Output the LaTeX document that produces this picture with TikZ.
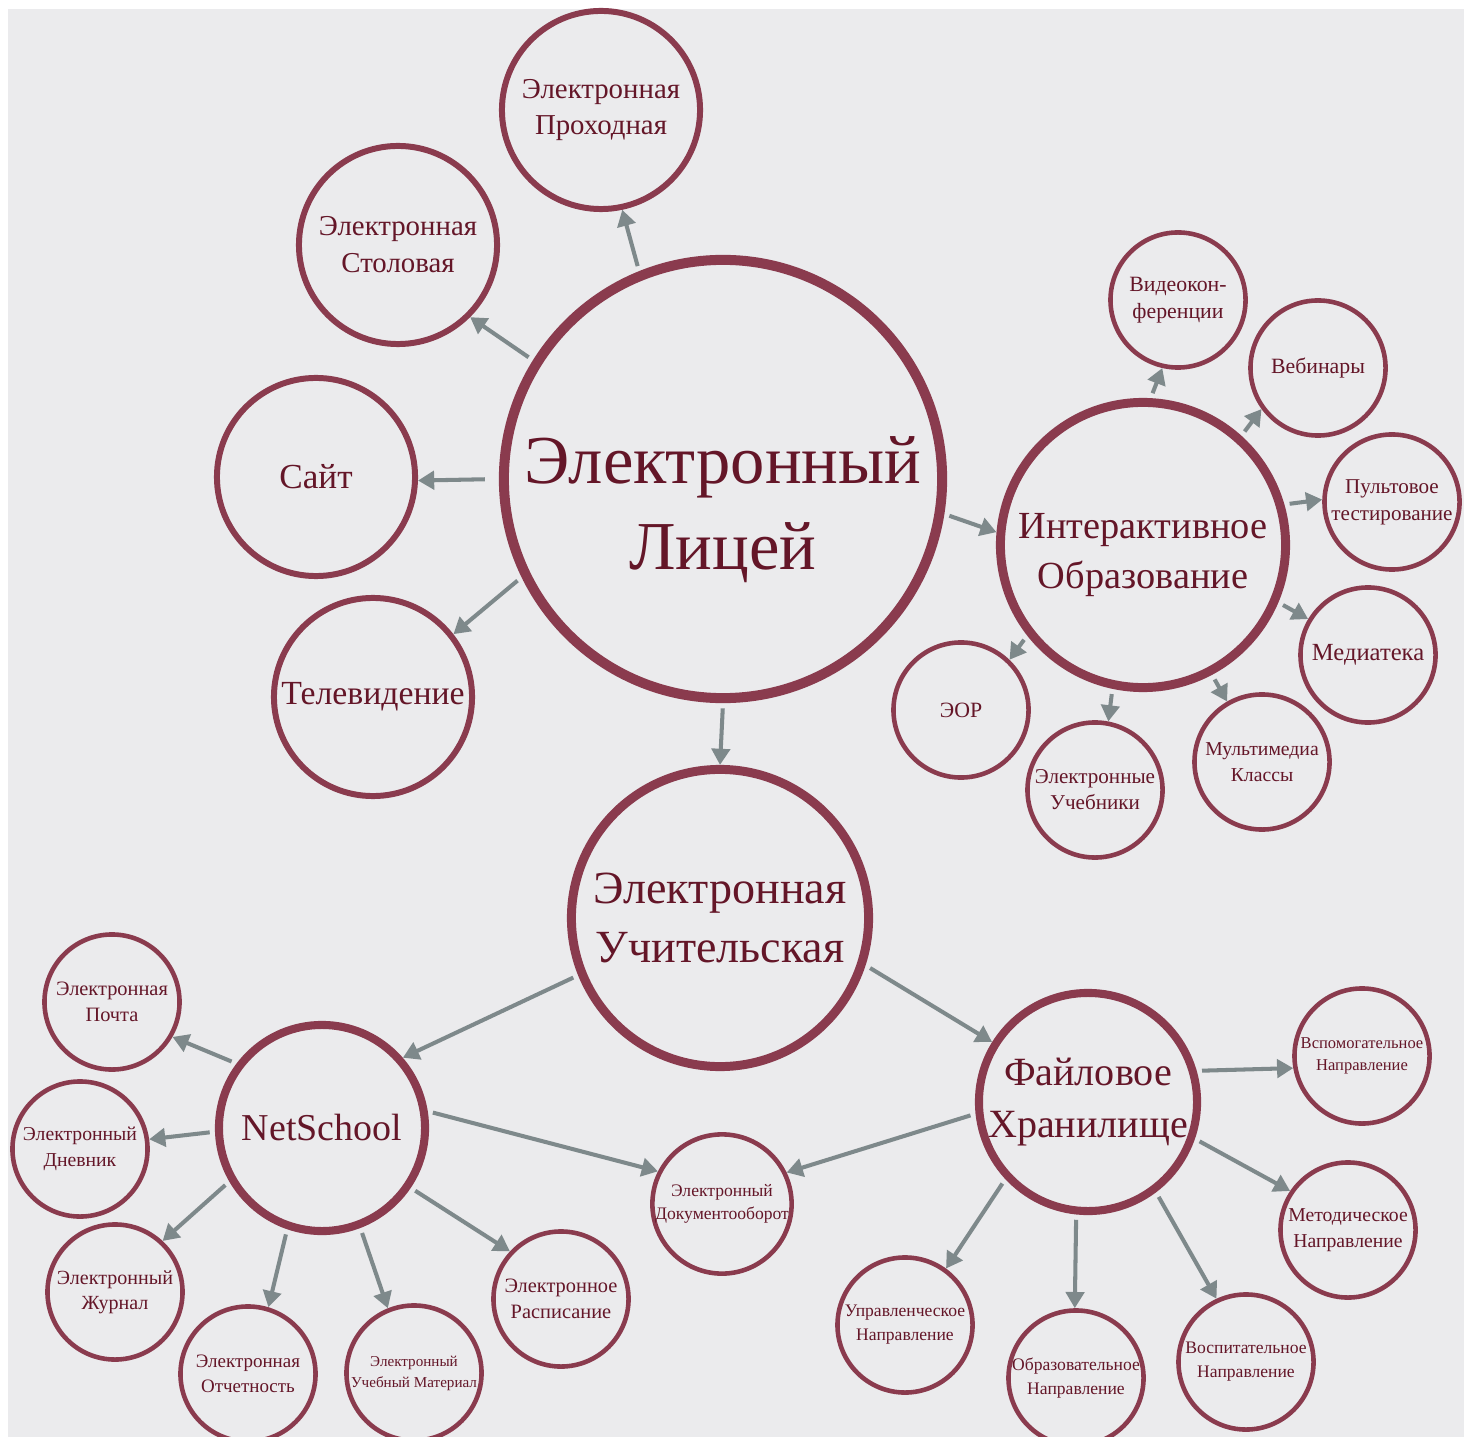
\documentclass[tikz,border=0pt]{standalone}
\usepackage{fontspec}
\setmainfont{Liberation Serif}
\usepackage{xcolor}
\usetikzlibrary{arrows.meta,positioning}

\definecolor{bggray}{HTML}{EBEBED}
\definecolor{ringred}{HTML}{8A3B4E}
\definecolor{inkred}{HTML}{641628}
\definecolor{arrgray}{HTML}{7E898B}

\newcommand{\fsz}[2]{\fontsize{#1}{#2}\selectfont}

\begin{document}
\begin{tikzpicture}[x=0.01cm, y=-0.01cm,
    bub/.style={circle, draw=ringred, fill=bggray, text=inkred, align=center, inner sep=0pt},
    ringtop/.style={bub, minimum size=1.98cm, line width=1.7pt, font=\fsz{8.2}{10.5}},
    ringsmall/.style={bub, minimum size=1.35cm, line width=1.3pt, font=\fsz{6.2}{7.6}},
    label text/.style={text=inkred, align=center, inner sep=0pt},
    arr/.style={draw=arrgray, line width=1.15pt, -{Triangle[length=4.6pt,width=5.2pt]}, shorten <=1.5pt}]

  \useasboundingbox (0,0) rectangle (1464,1437);
  \fill[white] (0,0) rectangle (1464,1437);
  \fill[bggray] (8,9) rectangle (1464,1437);

  % Central node
  \node[bub, minimum size=4.38cm, line width=2.85pt] (lyc) at (723,479) {};
  \node[label text, font=\fsz{19.5}{24.5}] (lyctext) at (723,510) {Электронный\\Лицей};

  % Left group
  \node[ringtop] (prox) at (601,110) {Электронная\\Проходная};
  \node[ringtop] (stol) at (398,245) {Электронная\\Столовая};
  \node[ringtop, font=\fsz{10}{12}] (sait) at (316,477) {Сайт};
  \node[ringtop, font=\fsz{9.6}{12}] (tv) at (373,697) {Телевидение};

  \draw[arr] (lyc.112) -- (prox.282);
  \draw[arr] (lyc.148) -- (stol.315);
  \draw[arr, shorten <=4pt] (lyc.180) -- (sait.358);
  \draw[arr] (lyc.206) -- (tv.38);

  % Interactive education
  \node[bub, minimum size=2.85cm, line width=2.55pt] (inter) at (1143,545) {};
  \node[label text, font=\fsz{10.9}{14}] (intertext) at (1143,555) {Интерактивное\\Образование};
  \node[ringsmall] (video) at (1178,300) {Видеокон-\\ференции};
  \node[ringsmall] (web) at (1318,368) {Вебинары};
  \node[ringsmall, font=\fsz{6}{7.6}] (pult) at (1392,502) {Пультовое\\тестирование};
  \node[ringsmall, font=\fsz{7}{8.4}] (media) at (1368,655) {Медиатека};
  \node[ringsmall, font=\fsz{5.6}{7.2}] (multi) at (1262,762) {Мультимедиа\\Классы};
  \node[ringsmall, font=\fsz{6}{7.4}] (uchebn) at (1095,790) {Электронные\\Учебники};
  \node[ringsmall] (eor) at (961,710) {ЭОР};

  \draw[arr] (lyc.351) -- (inter.175);
  \draw[arr] (inter.87) -- (video.257);
  \draw[arr] (inter.48) -- (web.216);
  \draw[arr] (inter.16) -- (pult.178);
  \draw[arr] (inter.337) -- (media.149);
  \draw[arr] (inter.298) -- (multi.120);
  \draw[arr] (inter.258) -- (uchebn.79);
  \draw[arr] (inter.218) -- (eor.46);

  % Teachers' room
  \node[bub, minimum size=2.97cm, line width=2.55pt, font=\fsz{13.1}{16.8}] (uch) at (720,918) {Электронная\\Учительская};
  \draw[arr] (lyc.270) -- (uch.90);

  % NetSchool
  \node[bub, minimum size=2.06cm, line width=2.3pt, font=\fsz{10.8}{14}] (net) at (322,1128) {NetSchool};
  \node[ringsmall, font=\fsz{5.8}{7.4}] (pochta) at (112,1002) {Электронная\\Почта};
  \node[ringsmall, font=\fsz{5.6}{7.2}] (dnev) at (80,1149) {Электронный\\Дневник};
  \node[ringsmall, font=\fsz{5.7}{7}] (zhur) at (115,1292) {Электронный\\Журнал};
  \node[ringsmall, font=\fsz{5.4}{7.2}] (otch) at (248,1374) {Электронная\\Отчетность};
  \node[ringsmall, font=\fsz{4.3}{6}] (umat) at (414,1373) {Электронный\\Учебный Материал};
  \node[ringsmall, font=\fsz{5.8}{7.4}] (rasp) at (561,1299) {Электронное\\Расписание};
  \node[ringsmall, font=\fsz{5}{6.6}] (doc) at (722,1204) {Электронный\\Документооборот};

  \draw[arr] (uch.202) -- (net.41);
  \draw[arr] (net.143) -- (pochta.330);
  \draw[arr] (net.182) -- (dnev.8);
  \draw[arr] (net.210) -- (zhur.47);
  \draw[arr] (net.251) -- (otch.73);
  \draw[arr] (net.291) -- (umat.112);
  \draw[arr] (net.326) -- (rasp.137);
  \draw[arr] (net.9) -- (doc.153);

  % File storage
  \node[bub, minimum size=2.18cm, line width=2.3pt, font=\fsz{11.4}{14.8}] (fil) at (1088,1102) {Файловое\\Хранилище};
  \node[ringsmall, font=\fsz{4.7}{6.4}] (vsp) at (1362,1056) {Вспомогательное\\Направление};
  \node[ringsmall, font=\fsz{5.6}{7.4}] (met) at (1348,1230) {Методическое\\Направление};
  \node[ringsmall, font=\fsz{5}{6.8}] (vosp) at (1246,1362) {Воспитательное\\Направление};
  \node[ringsmall, font=\fsz{5}{7}] (obr) at (1076,1378) {Образовательное\\Направление};
  \node[ringsmall, font=\fsz{5}{6.8}] (upr) at (905,1325) {Управленческое\\Направление};

  \draw[arr] (uch.342) -- (fil.148);
  \draw[arr] (fil.186) -- (doc.26);
  \draw[arr] (fil.16) -- (vsp.190);
  \draw[arr] (fil.341) -- (met.146);
  \draw[arr] (fil.307) -- (vosp.115);
  \draw[arr] (fil.264) -- (obr.91);
  \draw[arr] (fil.223) -- (upr.54);
\end{tikzpicture}
\end{document}
